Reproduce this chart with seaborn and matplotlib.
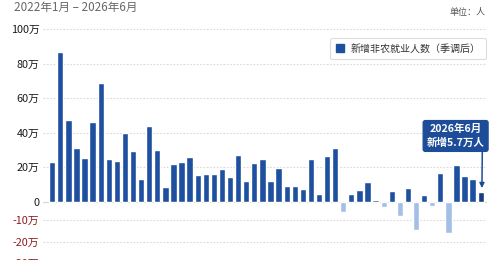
import numpy as np
import pandas as pd
import matplotlib
matplotlib.use("Agg")
import matplotlib.pyplot as plt
from matplotlib.patches import Patch
import seaborn as sns

# ---- data (万人) ----
months = [f"{y}-{m:02d}" for y in range(2022, 2027) for m in range(1, 13)][:54]
values = [23.0, 86.5, 47.2, 30.9, 25.1, 46.2, 68.9, 24.7, 23.4, 39.8,
          29.5, 12.9, 44.0, 29.7, 8.7, 22.0, 23.0, 26.2, 15.3, 16.0,
          16.0, 18.7, 14.5, 27.2, 12.1, 22.5, 24.9, 12.1, 19.3, 9.1,
          9.1, 7.2, 24.5, 4.5, 26.4, 31.4, -5.5, 4.3, 6.8, 11.2,
          1.0, -2.7, 6.4, -7.7, 7.8, -14.7, 3.9, -2.2, 16.4, -15.8,
          21.1, 15.1, 13.2, 5.7]
ytick_vals = [-30, -20, -10, 0, 20, 40, 60, 80, 100]
ytick_labels = ["-30万", "-20万", "-10万", "0", "20万", "40万", "60万", "80万", "100万"]
title_text = "2022年1月 – 2026年6月"
unit_text = "单位：人"
legend_label = "新增非农就业人数（季调后）"
note_text = "2026年6月\n新增5.7万人"

kinds = ["neg" if v < 0 else "pos" for v in values]
kinds[-1] = "last"
df = pd.DataFrame({"month": months, "value": values, "kind": kinds})

POS = "#1f4f9f"
NEG = "#a4bfe6"
LAST = "#173f80"
NAVY = "#1d4d98"

sns.set_theme(style="white")
plt.rcParams["font.family"] = ["Noto Sans CJK SC", "DejaVu Sans"]

# piecewise axis: negative side drawn with a slightly larger scale
v_pts = np.array([-50.0, -30.0, -20.0, -10.0, 0.0, 120.0])
p_pts = np.array([-104.3, -61.3, -40.0, -18.3, 0.0, 207.0])

def fwd(v):
    return np.interp(v, v_pts, p_pts)

def inv(p):
    return np.interp(p, p_pts, v_pts)

fig = plt.figure(figsize=(5.0, 2.6), dpi=100)
ax = fig.add_axes([43 / 500, -15 / 260, 444 / 500, 255 / 260])
ax.set_yscale("function", functions=(fwd, inv))

sns.barplot(data=df, x="month", y="value", hue="kind",
            palette={"pos": POS, "neg": NEG, "last": LAST},
            dodge=False, width=0.78, legend=False, ax=ax, saturation=1)

ax.set_xlim(-1.14, 53.78)
ax.set_ylim(inv(-73.3), inv(181.7))

for s in ax.spines.values():
    s.set_visible(False)
ax.set_xticks([])
ax.set_xlabel("")
ax.set_ylabel("")

ax.set_yticks(ytick_vals)
ax.set_yticklabels(ytick_labels)
ax.tick_params(axis="y", length=0, pad=2.5, labelsize=7.8)
for v, lab in zip(ytick_vals, ax.get_yticklabels()):
    lab.set_color("#8b1c1c" if v < 0 else "#1a1a1a")
    lab.set_fontweight("medium")

for v in ytick_vals:
    if v != 0:
        ax.axhline(v, color="#d9d9d9", lw=0.8, ls=(0, (1.5, 1.5)), zorder=0)
ax.axhline(0, color="#cfd6e3", lw=0.8, zorder=0.5)

# annotation
ax.text(49.9, 38.1, note_text, ha="center", va="center", color="white",
        fontsize=7.6, fontweight="bold", linespacing=1.4, zorder=5,
        bbox=dict(boxstyle="round,pad=0.33,rounding_size=0.2", fc=NAVY, ec=NAVY))
ax.annotate("", xy=(53.15, 7.9), xytext=(53.2, 29.4),
            arrowprops=dict(arrowstyle="-|>", color=NAVY, lw=1.1,
                            mutation_scale=7, shrinkA=0, shrinkB=0), zorder=5)

# legend
handles = [Patch(facecolor=POS, edgecolor=POS, label=legend_label)]
leg = ax.legend(handles=handles, loc="upper right",
                bbox_to_anchor=(486 / 500, 1 - 38 / 260), bbox_transform=fig.transFigure,
                fontsize=7.2, frameon=True, fancybox=True, shadow=False,
                handlelength=0.8, handleheight=0.8, handletextpad=0.7,
                borderpad=0.55, borderaxespad=0)
leg.get_frame().set_edgecolor("#d4d4d4")
leg.get_frame().set_linewidth(0.8)
for t in leg.get_texts():
    t.set_color("#333333")

fig.text(14 / 500, 1 - 7 / 260, title_text, ha="left", va="center",
         fontsize=8.4, color="#666666")
fig.text(486 / 500, 1 - 12.5 / 260, unit_text, ha="right", va="center",
         fontsize=6.5, color="#555555")

fig.savefig("out.png", dpi=100)
